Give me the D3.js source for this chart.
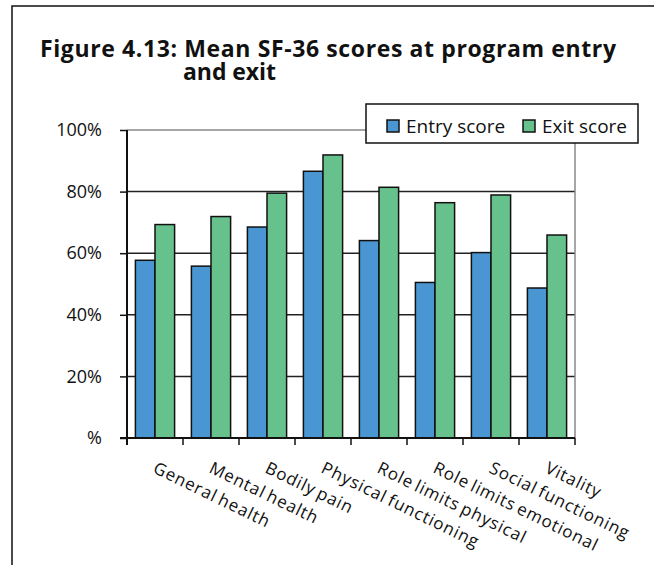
<!DOCTYPE html>
<html lang="en">
<head>
    <meta charset="UTF-8">
    <title>Mean SF-36 scores</title>
    <script src="https://cdn.jsdelivr.net/npm/d3@7"></script>
    <style>
        body { margin: 0; background: white; }
        text { font-family: "Open Sans", "DejaVu Sans", sans-serif; fill: #111; }
        .title { font-weight: bold; font-size: 23px; }
        .lbl { font-size: 18px; }
        .cat { font-size: 17px; word-spacing: -2px; letter-spacing: 0.9px; }
    </style>
</head>
<body>
<svg id="main" width="654" height="565"></svg>
<script>
    // data
    let categories = ['General health', 'Mental health', 'Bodily pain', 'Physical functioning',
        'Role limits physical', 'Role limits emotional', 'Social functioning', 'Vitality'];
    let entryScores = [57.7, 55.8, 68.5, 86.6, 64.1, 50.5, 60.2, 48.7];
    let exitScores = [69.3, 71.9, 79.5, 91.9, 81.4, 76.4, 78.9, 65.9];
    let seriesNames = ['Entry score', 'Exit score'];
    let seriesColors = ['#4a96d2', '#67c18c'];
    let yTicks = [0, 20, 40, 60, 80, 100];
    let yTickLabels = ['%', '20%', '40%', '60%', '80%', '100%'];
    let titleLines = ['Figure 4.13: Mean SF-36 scores at program entry', 'and exit'];

    let svg = d3.select('svg#main');
    let plot = {left: 127, right: 575, top: 130, bottom: 438};

    // outer frame (runs off the page right and bottom)
    svg.append('rect')
        .attr('x', 12).attr('y', 6).attr('width', 700).attr('height', 700)
        .attr('fill', 'none').attr('stroke', '#111').attr('stroke-width', 1.5);

    // title: one text, two lines, stretched to the original widths
    let title = svg.append('text').attr('class', 'title');
    title.append('tspan').attr('x', 40).attr('y', 57)
        .attr('textLength', 576).attr('lengthAdjust', 'spacing')
        .text(titleLines[0]);
    title.append('tspan').attr('x', 183).attr('y', 80)
        .attr('textLength', 93).attr('lengthAdjust', 'spacing')
        .text(titleLines[1]);

    let xScale = d3.scaleBand().domain(categories)
        .range([plot.left, plot.right]).paddingInner(0.3).paddingOuter(0.15);
    let xSub = d3.scaleBand().domain(seriesNames).range([0, xScale.bandwidth()]);
    let yScale = d3.scaleLinear().domain([0, 100]).range([plot.bottom, plot.top]);

    // gridlines
    svg.selectAll('line.grid')
        .data(yTicks.filter(d => d > 0))
        .enter()
        .append('line')
        .attr('class', 'grid')
        .attr('x1', plot.left).attr('x2', plot.right)
        .attr('y1', d => yScale(d)).attr('y2', d => yScale(d))
        .attr('stroke', d => d === 100 ? '#888' : '#222')
        .attr('stroke-width', 1.5);

    // right plot border
    svg.append('line')
        .attr('x1', plot.right).attr('x2', plot.right)
        .attr('y1', plot.top).attr('y2', plot.bottom)
        .attr('stroke', '#888').attr('stroke-width', 1.5);

    // bars
    let rows = categories.map((c, i) => ({cat: c, vals: [entryScores[i], exitScores[i]]}));
    let groups = svg.selectAll('g.grp')
        .data(rows)
        .enter()
        .append('g')
        .attr('class', 'grp')
        .attr('transform', d => 'translate(' + xScale(d.cat) + ',0)');
    groups.selectAll('rect')
        .data(d => d.vals.map((v, j) => ({name: seriesNames[j], v: v, j: j})))
        .enter()
        .append('rect')
        .attr('x', d => xSub(d.name))
        .attr('width', xSub.bandwidth())
        .attr('y', d => yScale(d.v))
        .attr('height', d => yScale(0) - yScale(d.v))
        .attr('fill', d => seriesColors[d.j])
        .attr('stroke', '#111').attr('stroke-width', 1.5);

    // y axis
    let yAxis = d3.axisLeft(yScale).tickValues(yTicks)
        .tickFormat((d, i) => yTickLabels[i]).tickSize(7).tickPadding(18);
    let gy = svg.append('g').attr('transform', 'translate(' + plot.left + ',0)').call(yAxis);
    gy.select('.domain').remove();
    gy.selectAll('line').attr('stroke', '#111').attr('stroke-width', 1.5);
    gy.selectAll('text').attr('class', 'lbl').attr('font-family', null).attr('font-size', null);
    svg.append('line')
        .attr('x1', plot.left).attr('x2', plot.left)
        .attr('y1', plot.top).attr('y2', plot.bottom + 7)
        .attr('stroke', '#111').attr('stroke-width', 2);

    // x axis: ticks at the category boundaries
    let bounds = d3.range(categories.length + 1).map(i => plot.left + i * xScale.step());
    svg.append('line')
        .attr('x1', plot.left - 7).attr('x2', plot.right)
        .attr('y1', plot.bottom).attr('y2', plot.bottom)
        .attr('stroke', '#111').attr('stroke-width', 2);
    svg.selectAll('line.xtick')
        .data(bounds)
        .enter()
        .append('line')
        .attr('class', 'xtick')
        .attr('x1', d => d).attr('x2', d => d)
        .attr('y1', plot.bottom).attr('y2', plot.bottom + 7)
        .attr('stroke', '#111').attr('stroke-width', 1.5);

    // rotated category labels
    svg.selectAll('text.cat')
        .data(categories)
        .enter()
        .append('text')
        .attr('class', 'cat')
        .attr('transform', d => 'translate(' + (xScale(d) + xScale.bandwidth() / 2 - 3) + ',' + 472 + ') rotate(26)')
        .text(d => d);

    // legend
    let legend = svg.append('g').attr('transform', 'translate(366,104)');
    legend.append('rect').attr('width', 272).attr('height', 39)
        .attr('fill', 'white').attr('stroke', '#111').attr('stroke-width', 1.5);
    let legX = [21, 157];
    seriesNames.forEach((name, i) => {
        legend.append('rect').attr('x', legX[i]).attr('y', 16).attr('width', 12).attr('height', 12)
            .attr('fill', seriesColors[i]).attr('stroke', '#111').attr('stroke-width', 1.5);
        legend.append('text').attr('class', 'lbl').attr('x', legX[i] + 19).attr('y', 29)
            .style('font-size', '19px').text(name);
    });
</script>
</body>
</html>
